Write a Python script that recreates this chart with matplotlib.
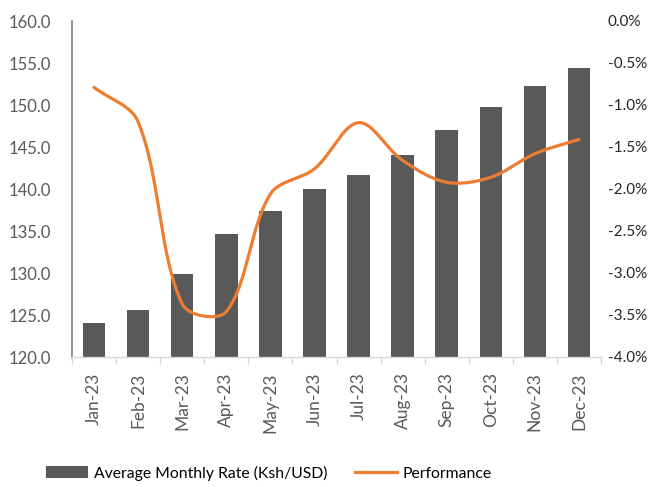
import numpy as np
import matplotlib
matplotlib.use('Agg')
import matplotlib.pyplot as plt
from matplotlib.lines import Line2D
from matplotlib.patches import Patch
from matplotlib.ticker import FuncFormatter

# data
months = ['Jan-23', 'Feb-23', 'Mar-23', 'Apr-23', 'May-23', 'Jun-23',
          'Jul-23', 'Aug-23', 'Sep-23', 'Oct-23', 'Nov-23', 'Dec-23']
avg_rate = [124.0, 125.6, 129.9, 134.6, 137.4, 140.0,
            141.7, 144.1, 147.0, 149.8, 152.3, 154.4]
performance = [-0.79, -1.20, -3.37, -3.46, -2.06, -1.76,
               -1.21, -1.66, -1.92, -1.86, -1.58, -1.41]

plt.rcParams['font.family'] = ['Lato', 'DejaVu Sans']

# spreadsheet style smoothed line: bezier segments whose control points are
# scaled by neighbouring segment lengths (worked out in screen units)
def smooth(xs, ys, sx=44.0, sy=83.9, n=40):
        P = np.column_stack([np.asarray(xs, float) * sx, np.asarray(ys, float) * sy])
        m = len(P)
        outx, outy = [], []
        t = np.linspace(0, 1, n)[:, None]
        for i in range(m - 1):
                p1, p2 = P[i], P[i + 1]
                p0 = P[i - 1] if i > 0 else p1
                p3 = P[i + 2] if i + 2 < m else p2
                l01 = np.hypot(*(p1 - p0))
                l12 = np.hypot(*(p2 - p1))
                l23 = np.hypot(*(p3 - p2))
                c1 = p1 + (p2 - p0) / 3 * (l12 / (l01 + l12))
                c2 = p2 - (p3 - p1) / 3 * (l12 / (l12 + l23))
                b = ((1 - t) ** 3) * p1 + 3 * ((1 - t) ** 2) * t * c1 + 3 * (1 - t) * t ** 2 * c2 + t ** 3 * p2
                outx.extend(b[:, 0] / sx)
                outy.extend(b[:, 1] / sy)
        return np.array(outx), np.array(outy)

x = np.arange(len(months))

fig = plt.figure(figsize=(6.52, 4.87), dpi=100)
ax = fig.add_axes([72 / 652, 1 - 357 / 487, (601 - 72) / 652, (357 - 21) / 487])
ax.bar(x, avg_rate, width=0.51, color='#595959', zorder=2)
ax.set_ylim(120, 160)
ax.set_xlim(-0.5, len(months) - 0.5)
ax.set_yticks(np.arange(120, 161, 5))
ax.yaxis.set_major_formatter(FuncFormatter(lambda v, p: '%.1f' % v))
ax.tick_params(axis='y', length=0, labelsize=12, colors='#595959', pad=15.5)
ax.set_xticks(x)
ax.set_xticklabels(months, rotation=90, fontsize=12.5, color='#595959')
ax.set_xticks(np.arange(-0.5, len(months), 1), minor=True)
ax.tick_params(axis='x', which='major', length=0, pad=11)
ax.tick_params(axis='x', which='minor', length=5, color='#d9d9d9', width=1)
for s in ['top', 'right']:
        ax.spines[s].set_visible(False)
ax.spines['left'].set_color('#808080')
ax.spines['left'].set_linewidth(1.2)
ax.spines['bottom'].set_color('#d9d9d9')
ax.spines['bottom'].set_linewidth(1)

ax2 = ax.twinx()
lx, ly = smooth(x, performance)
ax2.plot(lx, ly, color='#ED7D31', linewidth=2.3, solid_capstyle='round', zorder=3)
ax2.set_ylim(-4.0, 0.0)
ax2.set_yticks(np.arange(-4.0, 0.01, 0.5))
ax2.yaxis.set_major_formatter(FuncFormatter(lambda v, p: '%.1f%%' % v))
ax2.tick_params(axis='y', length=0, labelsize=11, colors='#262626', pad=5)
for s in ['top', 'right', 'left', 'bottom']:
        ax2.spines[s].set_visible(False)

handles = [Patch(facecolor='#595959', label='Average Monthly Rate (Ksh/USD)'),
           Line2D([0], [0], color='#ED7D31', linewidth=2.3, label='Performance')]
fig.legend(handles=handles, loc='center left', bbox_to_anchor=(46 / 652, 1 - 473 / 487),
           ncol=2, frameon=False, fontsize=11.3, handlelength=2.65, handleheight=0.78,
           columnspacing=1.8, handletextpad=0.38, borderpad=0, borderaxespad=0)

plt.savefig('out.png', dpi=100)
